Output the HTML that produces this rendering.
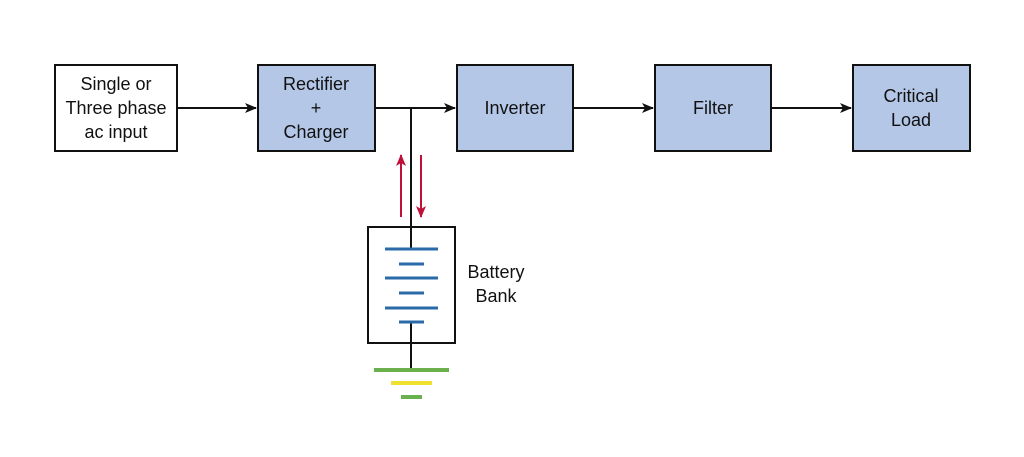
<!DOCTYPE html>
<html><head><meta charset="utf-8"><style>
html,body{margin:0;padding:0;background:#fff;}
svg{display:block;}
text{font-family:"Liberation Sans",Arial,sans-serif;font-size:18px;fill:#111;text-anchor:middle;}
</style></head><body>
<svg width="1024" height="457" viewBox="0 0 1024 457" xmlns="http://www.w3.org/2000/svg">
<defs>
<marker id="a" markerWidth="12" markerHeight="10" refX="11" refY="5" orient="auto" markerUnits="userSpaceOnUse">
<path d="M0,0 L12,5 L0,10 L3,5 Z" fill="#111"/></marker>
<marker id="r" markerWidth="12" markerHeight="10" refX="11" refY="5" orient="auto" markerUnits="userSpaceOnUse">
<path d="M0,0 L12,5 L0,10 L3,5 Z" fill="#c0103a"/></marker>
</defs>
<g stroke="#111" stroke-width="2">
<rect x="55" y="65" width="122" height="86" fill="#fff"/>
<rect x="258" y="65" width="117" height="86" fill="#b4c7e7"/>
<rect x="457" y="65" width="116" height="86" fill="#b4c7e7"/>
<rect x="655" y="65" width="116" height="86" fill="#b4c7e7"/>
<rect x="853" y="65" width="117" height="86" fill="#b4c7e7"/>
<rect x="368" y="227" width="87" height="116" fill="#fff"/>
<line x1="177" y1="108" x2="256" y2="108" marker-end="url(#a)"/>
<line x1="375" y1="108" x2="455" y2="108" marker-end="url(#a)"/>
<line x1="573" y1="108" x2="653" y2="108" marker-end="url(#a)"/>
<line x1="771" y1="108" x2="851" y2="108" marker-end="url(#a)"/>
<line x1="411" y1="108" x2="411" y2="249"/>
<line x1="411" y1="322" x2="411" y2="370"/>
</g>
<g stroke="#c0103a" stroke-width="2">
<line x1="401" y1="217" x2="401" y2="155" marker-end="url(#r)"/>
<line x1="421" y1="155" x2="421" y2="217" marker-end="url(#r)"/>
</g>
<g stroke="#2a6aa8" stroke-width="3">
<line x1="385" y1="249" x2="438" y2="249"/>
<line x1="399" y1="264" x2="424" y2="264"/>
<line x1="385" y1="278" x2="438" y2="278"/>
<line x1="399" y1="293" x2="424" y2="293"/>
<line x1="385" y1="308" x2="438" y2="308"/>
<line x1="399" y1="322" x2="424" y2="322"/>
</g>
<line x1="374" y1="370" x2="449" y2="370" stroke="#6ab04c" stroke-width="4"/>
<line x1="391" y1="383" x2="432" y2="383" stroke="#f0e030" stroke-width="4"/>
<line x1="401" y1="397" x2="422" y2="397" stroke="#6ab04c" stroke-width="4"/>
<text x="116" y="90">Single or</text>
<text x="116" y="114">Three phase</text>
<text x="116" y="138">ac input</text>
<text x="316" y="90">Rectifier</text>
<text x="316" y="114">+</text>
<text x="316" y="138">Charger</text>
<text x="515" y="114">Inverter</text>
<text x="713" y="114">Filter</text>
<text x="911" y="102">Critical</text>
<text x="911" y="126">Load</text>
<text x="496" y="278">Battery</text>
<text x="496" y="302">Bank</text>
</svg>
</body></html>
